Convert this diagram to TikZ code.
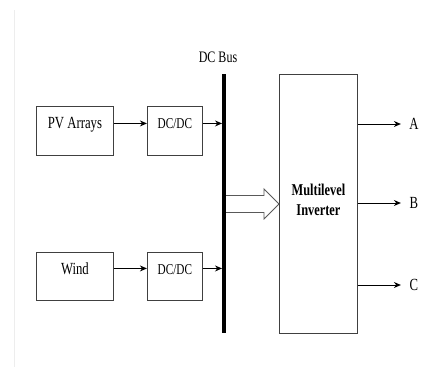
\documentclass[tikz,border=0pt]{standalone}
\usepackage{fontspec}
\setmainfont{Liberation Serif}[FakeStretch=0.75]
\usetikzlibrary{arrows.meta, positioning, calc}

\tikzset{
  blk/.style={draw=black!75, line width=0.9pt, inner sep=0pt, text height=22pt, text depth=27pt},
  arr/.style={-{Stealth[length=7pt,width=6pt]}, line width=0.9pt}
}

\begin{document}
\begin{tikzpicture}[x=1pt, y=-1pt, every node/.style={font=\fontsize{17}{19}\selectfont}]
  \useasboundingbox[fill=white] (0,0) rectangle (448,367);
  \draw[black!7, line width=1pt] (14,10) -- (14,367);
  % sources and converters
  \node[blk, minimum width=77pt, anchor=north west] (pv) at (36,106) {PV Arrays};
  \node[blk, minimum width=55pt, right=33pt of pv, font=\fontsize{15}{17}\selectfont] (dc1) {DC/DC};
  \node[blk, minimum width=77pt, text depth=26pt, anchor=north west] (wind) at (36,252) {Wind};
  \node[blk, minimum width=55pt, text depth=26pt, right=33pt of wind, font=\fontsize{15}{17}\selectfont] (dc2) {DC/DC};
  % dc bus
  \coordinate (bt) at (224,74);
  \coordinate (bb) at (224,333);
  \draw[line width=4.5pt] (bt) -- (bb);
  \node[font=\fontsize{16}{18}\selectfont] (bus) at (218,57) {DC Bus};
  % inverter
  \node[draw=black!75, line width=0.9pt, minimum width=78pt, minimum height=259pt, anchor=north west] (inv) at (279,74) {};
  \node[font=\bfseries\fontsize{16.5}{20}\selectfont, align=center] (invtxt) at ([yshift=4pt]inv.center) {Multilevel\\Inverter};
  \node (a) at (414,124) {A};
  \node (b) at (414,203) {B};
  \node (c) at (414,285) {C};
  \draw[arr] ([yshift=7.5pt]pv.east) -- ([yshift=7.5pt]dc1.west);
  \draw[arr] ([yshift=8pt]wind.east) -- ([yshift=8pt]dc2.west);
  \draw[arr, shorten >=2pt] ([yshift=7.5pt]dc1.east) -- ([yshift=7.5pt]dc1.east -| bt);
  \draw[arr, shorten >=2pt] ([yshift=8pt]dc2.east) -- ([yshift=8pt]dc2.east -| bt);
  \draw[arr] (inv.east |- a) -- ++(43,0);
  \draw[arr] (inv.east |- b) -- ++(43,0);
  \draw[arr] (inv.east |- c) -- ++(43,0);
  % block arrow from bus to inverter
  \draw[black!65, line width=0.8pt, fill=white]
    ($(bt |- inv.west)+(2,-8.5)$) -- ($(inv.west)+(-15,-8.5)$) -- ($(inv.west)+(-15,-15)$)
    -- (inv.west) -- ($(inv.west)+(-15,15)$) -- ($(inv.west)+(-15,8.5)$) -- ($(bt |- inv.west)+(2,8.5)$);
\end{tikzpicture}
\end{document}
